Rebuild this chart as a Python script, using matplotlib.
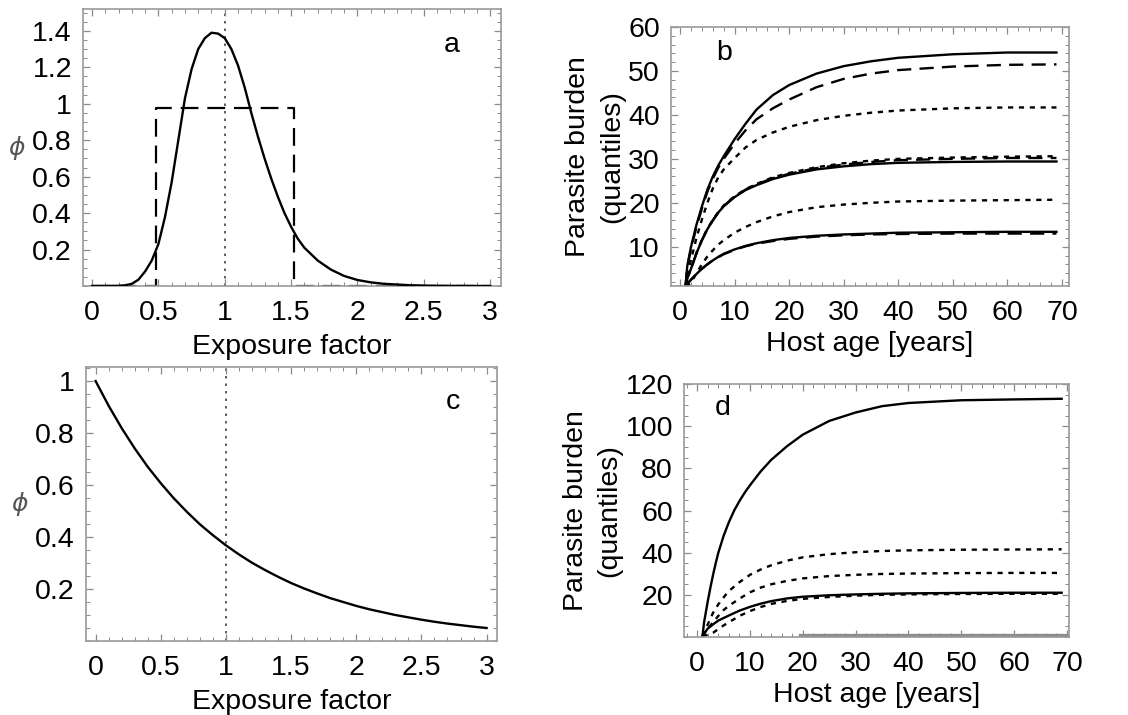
import matplotlib
matplotlib.use("Agg")
import matplotlib.pyplot as plt
from matplotlib.ticker import FixedLocator, MultipleLocator

plt.rcParams["font.family"] = ["Liberation Sans", "DejaVu Sans"]

# ---- panel a: exposure distribution (solid) and uniform alternative (dashed)
A_X = [0, 0.2, 0.25, 0.3, 0.35, 0.4, 0.45, 0.5, 0.55, 0.6, 0.65, 0.7, 0.75,
       0.8, 0.85, 0.9, 0.95, 1.0, 1.05, 1.1, 1.15, 1.2, 1.25, 1.3, 1.35, 1.4,
       1.45, 1.5, 1.55, 1.6, 1.7, 1.8, 1.9, 2.0, 2.1, 2.2, 2.4, 2.6, 3.0]
A_PHI = [0, 0.001, 0.004, 0.012, 0.035, 0.08, 0.14, 0.23, 0.38, 0.57, 0.80,
         1.03, 1.19, 1.30, 1.36, 1.39, 1.385, 1.36, 1.30, 1.21, 1.09, 0.95,
         0.82, 0.70, 0.59, 0.49, 0.40, 0.325, 0.26, 0.21, 0.14, 0.09, 0.055,
         0.033, 0.02, 0.012, 0.004, 0.001, 0]
A_STEP_X = [0, 0.48, 0.48, 1.52, 1.52, 3.0]
A_STEP_PHI = [0, 0, 0.975, 0.975, 0, 0]

# ---- panel c: exponential exposure distribution
C_X = [0, 0.1, 0.2, 0.3, 0.4, 0.5, 0.6, 0.7, 0.8, 0.9, 1.0, 1.1, 1.2, 1.3,
       1.4, 1.5, 1.6, 1.7, 1.8, 1.9, 2.0, 2.1, 2.2, 2.3, 2.4, 2.5, 2.6, 2.7,
       2.8, 2.9, 3.0]
C_PHI = [1.0, 0.905, 0.819, 0.741, 0.670, 0.607, 0.549, 0.497, 0.449, 0.407,
         0.368, 0.333, 0.301, 0.273, 0.247, 0.223, 0.202, 0.183, 0.165, 0.150,
         0.135, 0.122, 0.111, 0.100, 0.091, 0.082, 0.074, 0.067, 0.061, 0.055,
         0.050]

# ---- panel b: parasite burden quantiles vs host age
B_AGE = [1, 1.3, 2, 3, 4, 5, 6, 7, 8, 10, 12, 14, 17, 20, 25, 30, 35, 40, 50,
         60, 69]
B_HI_SOLID = [1, 5.5, 10, 15, 19.2, 23, 26, 28.5, 30.6, 34.5, 38, 41.2, 44.5,
              46.8, 49.4, 51.1, 52.2, 53, 53.8, 54.2, 54.2]
B_HI_DASHED = [1, 5.3, 9.5, 14.5, 18.7, 22.5, 25.5, 28, 30, 33.5, 36.5, 39,
               41.5, 43.5, 46.3, 48.2, 49.4, 50.2, 51, 51.4, 51.5]
B_HI_DOTTED = [1, 3.5, 7, 12, 16.2, 20, 23.3, 25.8, 27.6, 30.2, 32.6, 34.3, 36,
               37.3, 38.8, 39.8, 40.5, 41, 41.5, 41.7, 41.7]
B_MID_SOLID = [1, 2.8, 5, 8.5, 11.5, 14, 16, 17.8, 19.2, 21.3, 22.9, 24, 25.4,
               26.4, 27.6, 28.3, 28.8, 29.1, 29.3, 29.4, 29.4]
B_MID_DASHED = [1, 2.8, 5, 8.5, 11.5, 14, 16, 17.8, 19.3, 21.4, 23, 24.2, 25.6,
                26.6, 27.9, 28.7, 29.3, 29.7, 30, 30.2, 30.2]
B_MID_DOTTED = [1, 2.8, 5, 8.6, 11.6, 14.1, 16.1, 17.9, 19.4, 21.5, 23.1, 24.3,
                25.8, 26.8, 28.1, 29, 29.6, 30, 30.3, 30.5, 30.6]
B_LO_DOTTED = [1, 1.2, 1.8, 4, 6, 7.8, 9.2, 10.5, 11.5, 13.2, 14.5, 15.6, 16.9,
               17.9, 19, 19.6, 20, 20.3, 20.5, 20.6, 20.7]
B_LO_SOLID = [1, 1.6, 2.5, 3.8, 5, 6, 6.9, 7.7, 8.4, 9.4, 10.2, 10.8, 11.5, 12,
              12.5, 12.8, 13, 13.2, 13.3, 13.4, 13.4]
B_LO_DASHED = [1, 1.6, 2.5, 3.8, 5, 6, 6.9, 7.6, 8.3, 9.3, 10.1, 10.7, 11.3,
               11.8, 12.3, 12.6, 12.8, 12.9, 13, 13, 13]

# ---- panel d
D_HI_AGE = [1, 1.3, 2, 2.5, 3, 3.5, 4, 5, 6, 7, 8, 9, 10, 12, 14, 17, 20, 25,
            30, 35, 40, 50, 60, 69]
D_HI_SOLID = [0.5, 7, 17, 23.5, 29.5, 35, 40, 48, 54.5, 60, 64.5, 68.5, 72,
              78.5, 84, 90.5, 96, 102.5, 106.5, 109.5, 111, 112.3, 112.7, 113]
D_AGE = [1, 2, 3, 4, 5, 6, 8, 10, 12, 14, 17, 20, 25, 30, 35, 40, 50, 60, 69]
D_HI_DOTTED = [0.5, 6, 11.5, 15.5, 18.8, 21.8, 26, 29.5, 32, 34, 36.2, 37.8,
               39.3, 40.2, 40.8, 41.1, 41.4, 41.5, 41.6]
D_MID_DOTTED = [0.5, 4, 7, 10, 12.8, 14.8, 18.2, 21.2, 23.4, 25, 26.6, 27.8,
                28.9, 29.5, 29.9, 30.1, 30.3, 30.4, 30.4]
D_LO_SOLID = [0.5, 4, 6, 7.8, 9, 10.2, 12.5, 14.3, 15.8, 17, 18.3, 19.1, 19.8,
              20.2, 20.5, 20.7, 20.9, 21, 21]
D_LO_DOTTED = [0.5, 1, 2, 3.8, 5.5, 7, 10, 12.3, 14.2, 15.7, 17.1, 18.1, 19,
               19.6, 20, 20.2, 20.4, 20.5, 20.5]
D_GRAY_AGE = [19.5, 70]
D_GRAY_Y = [0.8, 0.8]

FS = 20.5
FRAME = "#9a9a9a"
LW = 1.7
DASH = (0, (6, 3.5))
DOT = (0, (2.2, 2.4))


def style(ax, xmaj, xmin, ymaj, ymin, xlabels, ylabels):
    for s in ax.spines.values():
        s.set_color(FRAME)
        s.set_linewidth(1.2)
    ax.xaxis.set_major_locator(FixedLocator(xmaj))
    ax.yaxis.set_major_locator(FixedLocator(ymaj))
    ax.xaxis.set_minor_locator(MultipleLocator(xmin))
    ax.yaxis.set_minor_locator(MultipleLocator(ymin))
    ax.set_xticklabels(xlabels)
    ax.set_yticklabels(ylabels)
    ax.tick_params(which="both", direction="in", top=True, right=True,
                   color="#8a8a8a", labelsize=FS)
    ax.tick_params(which="major", length=5, width=0.9, pad=8)
    ax.tick_params(axis="x", which="major", pad=10)
    ax.tick_params(which="minor", length=3, width=0.7)


fig = plt.figure(figsize=(11.28, 7.15), dpi=100)
ax_a = fig.add_axes([0.0736, 0.600, 0.3706, 0.3874])
ax_b = fig.add_axes([0.5949, 0.600, 0.3528, 0.3622])
ax_c = fig.add_axes([0.0762, 0.1035, 0.3644, 0.3832])
ax_d = fig.add_axes([0.6064, 0.1091, 0.3413, 0.3538])

# a
ax_a.plot(A_STEP_X, A_STEP_PHI, color="black", lw=1.6, ls=(0, (8, 4)), zorder=2)
ax_a.plot(A_X, A_PHI, color="black", lw=LW, zorder=3)
ax_a.axvline(1, color="#444444", lw=1.2, ls=(0, (1.5, 3)), zorder=1)
ax_a.set_xlim(-0.068, 3.082)
ax_a.set_ylim(0, 1.52)
style(ax_a, [0, 0.5, 1, 1.5, 2, 2.5, 3], 0.1,
      [0.2, 0.4, 0.6, 0.8, 1.0, 1.2, 1.4], 0.05,
      ["0", "0.5", "1", "1.5", "2", "2.5", "3"],
      ["0.2", "0.4", "0.6", "0.8", "1", "1.2", "1.4"])
ax_a.set_xlabel("Exposure factor", fontsize=FS, labelpad=6)
ax_a.set_ylabel(r"$\phi$", fontsize=18, color="#555555", rotation=0,
                labelpad=11, va="center")
ax_a.text(0.883, 0.87, "a", transform=ax_a.transAxes, fontsize=FS,
          ha="center", va="center")

# b
for ys, ls in [(B_HI_DOTTED, DOT), (B_MID_DOTTED, DOT), (B_LO_DOTTED, DOT),
               (B_HI_DASHED, DASH), (B_MID_DASHED, DASH), (B_LO_DASHED, DASH),
               (B_HI_SOLID, "-"), (B_MID_SOLID, "-"), (B_LO_SOLID, "-")]:
    ax_b.plot(B_AGE, ys, color="black", lw=LW, ls=ls)
ax_b.set_xlim(-1.66, 71.3)
ax_b.set_ylim(1.07, 60)
style(ax_b, [0, 10, 20, 30, 40, 50, 60, 70], 2, [10, 20, 30, 40, 50, 60], 2,
      ["0", "10", "20", "30", "40", "50", "60", "70"],
      ["10", "20", "30", "40", "50", "60"])
ax_b.set_xlabel("Host age [years]", fontsize=FS, labelpad=4)
ax_b.set_ylabel("Parasite burden\n(quantiles)", fontsize=FS, linespacing=1.4,
                labelpad=2)
ax_b.text(0.133, 0.90, "b", transform=ax_b.transAxes, fontsize=FS,
          ha="center", va="center")

# c
ax_c.plot(C_X, C_PHI, color="black", lw=LW, zorder=3)
ax_c.axvline(1, color="#444444", lw=1.2, ls=(0, (1.5, 3)), zorder=1)
ax_c.set_xlim(-0.074, 3.08)
ax_c.set_ylim(0, 1.054)
style(ax_c, [0, 0.5, 1, 1.5, 2, 2.5, 3], 0.1,
      [0.2, 0.4, 0.6, 0.8, 1.0], 0.05,
      ["0", "0.5", "1", "1.5", "2", "2.5", "3"],
      ["0.2", "0.4", "0.6", "0.8", "1"])
ax_c.set_xlabel("Exposure factor", fontsize=FS, labelpad=6)
ax_c.set_ylabel(r"$\phi$", fontsize=18, color="#555555", rotation=0,
                labelpad=11, va="center")
ax_c.text(0.893, 0.872, "c", transform=ax_c.transAxes, fontsize=FS,
          ha="center", va="center")

# d
ax_d.plot(D_HI_AGE, D_HI_SOLID, color="black", lw=LW)
for ys, ls in [(D_HI_DOTTED, DOT), (D_MID_DOTTED, DOT), (D_LO_DOTTED, DOT),
               (D_LO_SOLID, "-")]:
    ax_d.plot(D_AGE, ys, color="black", lw=LW, ls=ls)
ax_d.plot(D_GRAY_AGE, D_GRAY_Y, color="#8c8c8c", lw=2.4)
ax_d.set_xlim(-2.5, 70.4)
ax_d.set_ylim(0, 120)
style(ax_d, [0, 10, 20, 30, 40, 50, 60, 70], 2, [20, 40, 60, 80, 100, 120], 5,
      ["0", "10", "20", "30", "40", "50", "60", "70"],
      ["20", "40", "60", "80", "100", "120"])
ax_d.set_xlabel("Host age [years]", fontsize=FS, labelpad=4)
ax_d.set_ylabel("Parasite burden\n(quantiles)", fontsize=FS, linespacing=1.4,
                labelpad=2)
ax_d.text(0.101, 0.905, "d", transform=ax_d.transAxes, fontsize=FS,
          ha="center", va="center")

fig.savefig("out.png", dpi=100)
